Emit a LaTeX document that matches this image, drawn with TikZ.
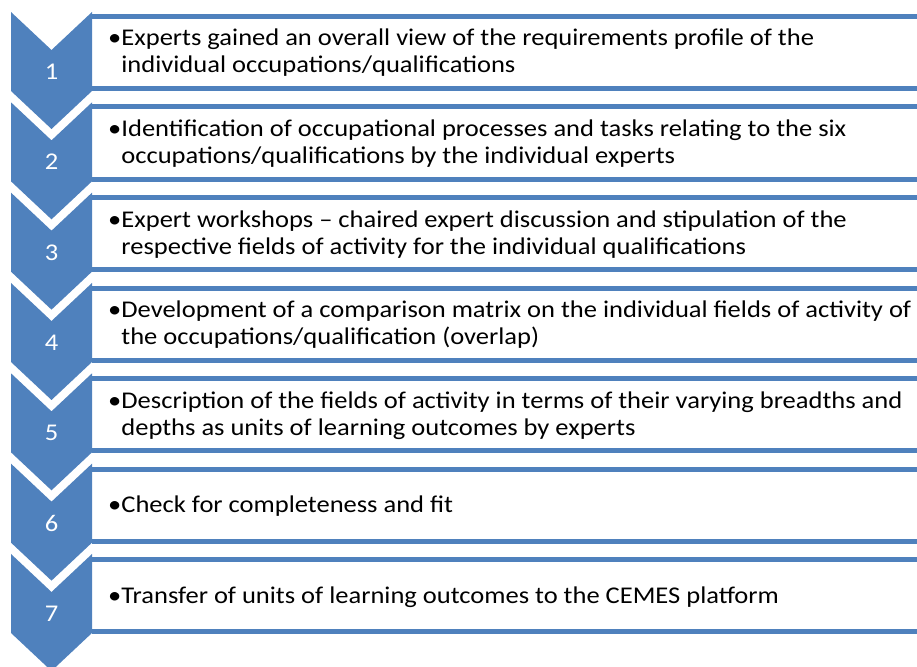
\documentclass[tikz,border=0pt]{standalone}
\usepackage{fontspec}
\setmainfont{Carlito}[FakeStretch=1.105]
\definecolor{accent}{HTML}{4F81BD}
\begin{document}
\begin{tikzpicture}[x=1pt,y=-1pt,
  chev/.style={fill=accent},
  boxline/.style={draw=accent,line width=5pt},
  numtxt/.style={anchor=base,inner sep=0,text=white,font={\fontsize{24}{27}\selectfont}},
  itemtxt/.style={anchor=base west,inner sep=0,text=black,font={\fontsize{24}{27}\selectfont}}]
\useasboundingbox (0,0) rectangle (917,666);
\clip (0,0) rectangle (917,666);
% boxes (top and bottom borders)
\foreach \k in {1,...,7}{
  \pgfmathsetmacro{\B}{14+90.5*(\k-1)}
  \pgfmathsetmacro{\Bt}{\B+2.5}
  \pgfmathsetmacro{\Bb}{\B+74.5}
  \coordinate (bl\k) at (92,\Bt);
  \coordinate (br\k) at (925,\Bt);
  \coordinate (cl\k) at (92,\Bb);
  \coordinate (cr\k) at (925,\Bb);
  \draw[boxline] (bl\k) -- (br\k);
  \draw[boxline] (cl\k) -- (cr\k);
}
% chevrons
\foreach \k in {1,...,7}{
  \pgfmathsetmacro{\T}{12+90.33*(\k-1)}
  \pgfmathsetmacro{\N}{\T+38}
  \pgfmathsetmacro{\S}{\T+79}
  \pgfmathsetmacro{\P}{\T+117}
  \pgfmathsetmacro{\L}{\T+67.5}
  \fill[chev] (11,\T) -- (51.5,\N) -- (92,\T) -- (92,\S) -- (51.5,\P) -- (11,\S) -- cycle;
  \node[numtxt] (n\k) at (51.5,\L) {\k};
}
% texts
\node[itemtxt] (t1) at (108,46) {•\parbox[t]{800pt}{Experts gained an overall view of the requirements profile of the\\individual occupations/qualifications}};
\node[itemtxt] (t2) at (108,136.5) {•\parbox[t]{800pt}{Identification of occupational processes and tasks relating to the six\\occupations/qualifications by the individual experts}};
\node[itemtxt] (t3) at (108,227) {•\parbox[t]{800pt}{Expert workshops – chaired expert discussion and stipulation of the\\respective fields of activity for the individual qualifications}};
\node[itemtxt] (t4) at (108,317.5) {•\parbox[t]{820pt}{Development of a comparison matrix on the individual fields of activity of\\the occupations/qualification (overlap)}};
\node[itemtxt] (t5) at (108,408) {•\parbox[t]{820pt}{Description of the fields of activity in terms of their varying breadths and\\depths as units of learning outcomes by experts}};
\node[itemtxt] (t6) at (108,512.5) {•Check for completeness and fit};
\node[itemtxt] (t7) at (108,603) {•Transfer of units of learning outcomes to the CEMES platform};
\end{tikzpicture}
\end{document}
